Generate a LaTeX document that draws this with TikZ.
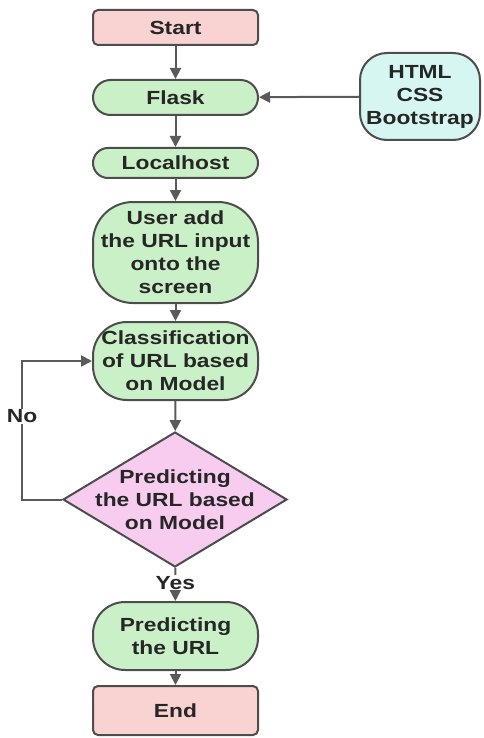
\documentclass[tikz,border=0pt]{standalone}
\usepackage{fontspec}
\newfontfamily\lbl[FakeStretch=1.2]{Liberation Sans}
\usetikzlibrary{arrows.meta,shapes.geometric}
\definecolor{edge}{HTML}{4D4D4D}
\definecolor{link}{HTML}{5A5A5A}
\definecolor{ink}{HTML}{262626}
\definecolor{termfill}{HTML}{F9D2D2}
\definecolor{stepfill}{HTML}{C9F0C6}
\definecolor{webfill}{HTML}{D6F6F1}
\definecolor{askfill}{HTML}{F7CCEF}
\tikzset{
  txt/.style={font=\lbl\bfseries\fontsize{19}{23}\selectfont, text=ink, align=center},
  box/.style={txt, draw=edge, line width=2pt, inner sep=0pt, minimum width=165pt},
  term/.style={box, fill=termfill, rounded corners=5pt},
  proc/.style={box, fill=stepfill},
  flow/.style={draw=link, line width=2pt, -{Triangle[length=11pt,width=11pt]}},
  tag/.style={txt, fill=white, inner sep=1pt}
}
\begin{document}
\begin{tikzpicture}[x=1pt,y=-1pt]
\useasboundingbox (0,0) rectangle (483,738);

\node[term, minimum height=35pt] (start) at (175.5,27.5) {Start};
\node[proc, minimum height=35pt, rounded corners=17.5pt] (flask) at (175.5,97.5) {Flask};
\node[box, fill=webfill, minimum width=120pt, minimum height=87pt, rounded corners=27pt] (web) at (420,96.5) {HTML\\CSS\\Bootstrap};
\node[proc, minimum height=30pt, rounded corners=15pt] (local) at (175.5,163) {Localhost};
\node[proc, minimum height=101pt, rounded corners=40pt] (user) at (175.5,252.5) {User add\\the URL input\\onto the\\screen};
\node[proc, minimum height=78pt, rounded corners=34pt] (cls) at (175.5,361) {Classification\\of URL based\\on Model};
\node[diamond, draw=edge, line width=2pt, fill=askfill, inner sep=0pt,
      minimum width=224pt, minimum height=135pt] (ask) at (175,499.5) {};
\node[txt, text=ink] (asktext) at (ask.center) {Predicting\\the URL based\\on Model};
\node[proc, minimum height=68pt, rounded corners=32pt] (pred) at (175.5,636) {Predicting\\the URL};
\node[term, minimum height=49pt] (end) at (175.5,710.5) {End};

\draw[flow] (start) -- (flask);
\draw[flow] (web) -- (flask);
\draw[flow] (flask) -- (local);
\draw[flow] (local) -- (user);
\draw[flow] (user) -- (cls);
\draw[flow] (cls) -- (ask);
\draw[flow] (ask) -- node[tag, pos=0.45] (yes) {Yes} (pred);
\draw[flow] (pred) -- (end);
\coordinate (bend) at (22,499.5);
\draw[flow] (ask.west) -- (bend) |- node[tag, pos=0.30] (no) {No} (cls.west);
\end{tikzpicture}
\end{document}
